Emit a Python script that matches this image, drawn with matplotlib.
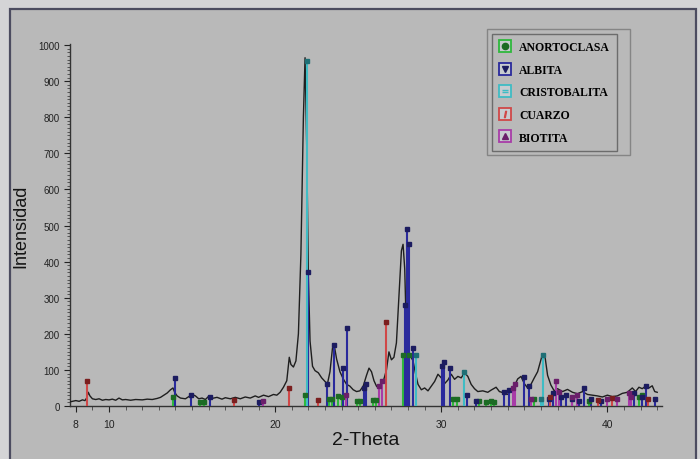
import matplotlib
matplotlib.use("Agg")
import matplotlib.pyplot as plt
from matplotlib.lines import Line2D
from matplotlib.patches import Rectangle
from matplotlib.ticker import MultipleLocator, FixedLocator

# patron de difraccion
theta = [7.7, 8.0, 8.2, 8.4, 8.55, 8.65, 8.75, 8.85, 9.0, 9.2, 9.4, 9.6, 9.8, 10.0,
         10.2, 10.4, 10.6, 10.8, 11.0, 11.3, 11.6, 12.0, 12.3, 12.6, 12.9, 13.1,
         13.3, 13.5, 13.7, 13.85, 13.95, 14.1, 14.3, 14.6, 14.8, 15.0, 15.2, 15.4,
         15.6, 15.8, 16.0, 16.2, 16.5, 16.8, 17.0, 17.3, 17.6, 17.9, 18.2, 18.5,
         18.8, 19.0, 19.3, 19.6, 19.9, 20.1, 20.3, 20.5, 20.7, 20.85, 20.95, 21.1,
         21.25, 21.4, 21.55, 21.7, 21.8, 21.9, 22.0, 22.1, 22.25, 22.4, 22.6, 22.8,
         23.0, 23.15, 23.3, 23.45, 23.55, 23.7, 23.9, 24.1, 24.3, 24.5, 24.7, 24.9,
         25.1, 25.3, 25.5, 25.65, 25.8, 25.95, 26.1, 26.25, 26.4, 26.55, 26.7,
         26.85, 27.0, 27.15, 27.3, 27.45, 27.6, 27.7, 27.8, 27.9, 28.0, 28.15,
         28.3, 28.45, 28.6, 28.8, 29.0, 29.2, 29.4, 29.6, 29.8, 30.0, 30.2, 30.4,
         30.6, 30.8, 31.0, 31.2, 31.4, 31.6, 31.8, 32.0, 32.2, 32.5, 32.8, 33.0,
         33.3, 33.5, 33.8, 34.0, 34.2, 34.4, 34.6, 34.8, 35.0, 35.2, 35.4, 35.6,
         35.8, 35.95, 36.1, 36.25, 36.4, 36.6, 36.8, 37.0, 37.3, 37.6, 37.9, 38.2,
         38.5, 38.8, 39.1, 39.4, 39.7, 40.0, 40.3, 40.6, 40.9, 41.2, 41.5, 41.7,
         41.9, 42.1, 42.3, 42.5, 42.7, 42.85, 43.0]
inten = [12, 15, 13, 17, 15, 22, 38, 28, 20, 18, 20, 16, 18, 17,
         19, 16, 22, 17, 18, 16, 18, 17, 19, 18, 21, 24,
         30, 36, 45, 50, 38, 28, 22, 20, 26, 32, 28, 20,
         22, 18, 27, 21, 24, 19, 23, 20, 24, 20, 25, 22,
         28, 24, 30, 26, 32, 30, 38, 52, 70, 135, 115, 108,
         125, 200, 420, 800, 965, 720, 360, 180, 110, 98, 92, 78,
         68, 62, 95, 160, 170, 130, 95, 75, 60, 55, 45, 40,
         42, 55, 85, 105, 95, 70, 55, 48, 62, 75, 100,
         150, 128, 135, 175, 300, 430, 448, 380, 200, 145, 138,
         125, 90, 60, 45, 50, 42, 55, 68, 88, 78, 62, 72,
         88, 74, 82, 78, 92, 82, 60, 48, 40, 42, 38, 44,
         52, 40, 36, 32, 45, 55, 75, 82, 62, 50, 60, 78,
         95, 120, 145, 135, 85, 58, 42, 48, 40, 46, 38, 34,
         40, 32, 30, 28, 25, 30, 26, 28, 35, 38, 50, 40,
         52, 48, 55, 50, 56, 40, 38]

# lineas de referencia de cada fase
anort_pos = [13.85, 15.5, 15.7, 21.8, 23.25, 23.45, 23.8, 24.0, 24.9, 25.1, 25.9, 26.1,
             27.7, 28.05, 30.7, 30.95, 32.3, 32.7, 33.0, 33.2, 35.6, 38.9, 41.9, 42.1]
anort_int = [25, 12, 12, 30, 20, 20, 28, 25, 15, 15, 18, 18,
             140, 140, 20, 20, 15, 12, 15, 12, 20, 15, 25, 30]
albita_pos = [13.95, 14.95, 16.05, 19.0, 22.0, 23.1, 23.55, 24.1, 24.3, 25.35, 25.45,
              27.8, 27.95, 28.05, 28.3, 30.05, 30.15, 30.5, 31.55, 32.1, 33.8, 34.1,
              35.0, 35.3, 36.5, 36.7, 37.2, 37.5, 37.9, 38.3, 38.6, 39.0, 39.6, 41.6,
              42.1, 42.3, 42.85]
albita_int = [78, 30, 25, 10, 370, 60, 170, 105, 215, 50, 60,
              280, 490, 450, 160, 110, 122, 105, 30, 15, 40, 45,
              80, 55, 20, 35, 25, 30, 20, 15, 50, 20, 15, 35,
              25, 55, 20]
crist_pos = [21.9, 28.45, 31.35, 36.0, 36.15]
crist_int = [955, 140, 95, 20, 140]
cuarzo_pos = [8.65, 17.5, 20.85, 22.55, 26.65, 36.55, 39.45, 40.3, 42.45]
cuarzo_int = [70, 18, 50, 18, 232, 25, 18, 22, 20]
biot_pos = [19.25, 24.25, 26.25, 26.45, 34.3, 34.45, 35.4, 36.9, 37.1, 37.9, 38.2,
            40.0, 40.6, 41.3, 41.45]
biot_int = [15, 30, 55, 70, 50, 60, 20, 70, 40, 25, 30, 20, 20, 35, 25]

fases = ["ANORTOCLASA", "ALBITA", "CRISTOBALITA", "CUARZO", "BIOTITA"]
colores = ["#2fb83c", "#2a2a9c", "#3fbcc4", "#d04848", "#a83ca8"]
marcas = ["o", "v", "$=$", "$I$", "^"]
tapas = ["#1c6b24", "#1c1c60", "#1f6f75", "#7a1f1f", "#6a1f6a"]
posiciones = [anort_pos, albita_pos, crist_pos, cuarzo_pos, biot_pos]
alturas = [anort_int, albita_int, crist_int, cuarzo_int, biot_int]

plt.rcParams['font.family'] = ['Liberation Sans', 'DejaVu Sans']

fig = plt.figure(figsize=(7, 4.6), dpi=100)
fig.patch.set_facecolor("#d4d4d6")
fig.patches.append(Rectangle((0.0143, -0.02), 0.98, 0.998, transform=fig.transFigure,
                             facecolor="#b9b9b9", edgecolor="#4c4c60", linewidth=1.6,
                             zorder=-2))
fig.patches.append(Rectangle((0.696, 0.661), 0.204, 0.274, transform=fig.transFigure,
                             facecolor="none", edgecolor="#858585", linewidth=1.0,
                             zorder=-1))

ax = fig.add_axes([0.1, 0.1152, 0.846, 0.787])
ax.set_zorder(2)
ax.set_facecolor("none")

ax.plot(theta, inten, color="#1e1e1e", linewidth=1.0, zorder=3)

for pos, alt, c, tc in zip(posiciones, alturas, colores, tapas):
    ax.vlines(pos, 0, alt, colors=c, linewidth=1.5, zorder=4)
    ax.plot(pos, alt, linestyle="none", marker="s", markersize=2.3,
            color=tc, zorder=5)

ax.set_xlim(7.65, 43.3)
ax.set_ylim(0, 1003)
for s in ["top", "right"]:
    ax.spines[s].set_visible(False)
for s in ["left", "bottom"]:
    ax.spines[s].set_color("#333333")
    ax.spines[s].set_linewidth(1.0)

ax.xaxis.set_major_locator(FixedLocator([8, 10, 20, 30, 40]))
ax.xaxis.set_minor_locator(MultipleLocator(1))
ax.yaxis.set_major_locator(MultipleLocator(100))
ax.yaxis.set_minor_locator(MultipleLocator(10))
ax.tick_params(axis="x", which="major", length=4, labelsize=7.5, pad=5, colors="#222222")
ax.tick_params(axis="x", which="minor", length=3, color="#444444")
ax.tick_params(axis="y", which="major", length=4, labelsize=7, colors="#222222")
ax.tick_params(axis="y", which="minor", length=2, color="#444444")

ax.set_xlabel("2-Theta", fontsize=14, color="#151515", labelpad=2)
ax.set_ylabel("Intensidad", fontsize=13, color="#151515", labelpad=6)

handles = []
for c, m, tc in zip(colores, marcas, tapas):
    caja = Line2D([], [], linestyle="none", marker="s", markersize=9,
                  markerfacecolor="#c8ccd0", markeredgecolor=c, markeredgewidth=1.3)
    simb = Line2D([], [], linestyle="none", marker=m, markersize=4.5,
                  color=tc if m in ("o", "v", "^") else c)
    handles.append((caja, simb))

leg = ax.legend(handles, fases, loc="upper left", bbox_to_anchor=(0.703, 0.924),
                bbox_transform=fig.transFigure, borderaxespad=0, frameon=True,
                fancybox=False, facecolor="#b9b9b9", edgecolor="#6c6c6c", framealpha=1,
                labelspacing=0.9, handlelength=1.0, handletextpad=0.7,
                borderpad=0.6, prop={"family": "Liberation Serif", "weight": "bold",
                                     "size": 8.5})
leg.get_frame().set_linewidth(1.0)

fig.savefig("out.png", dpi=100, facecolor=fig.get_facecolor())
